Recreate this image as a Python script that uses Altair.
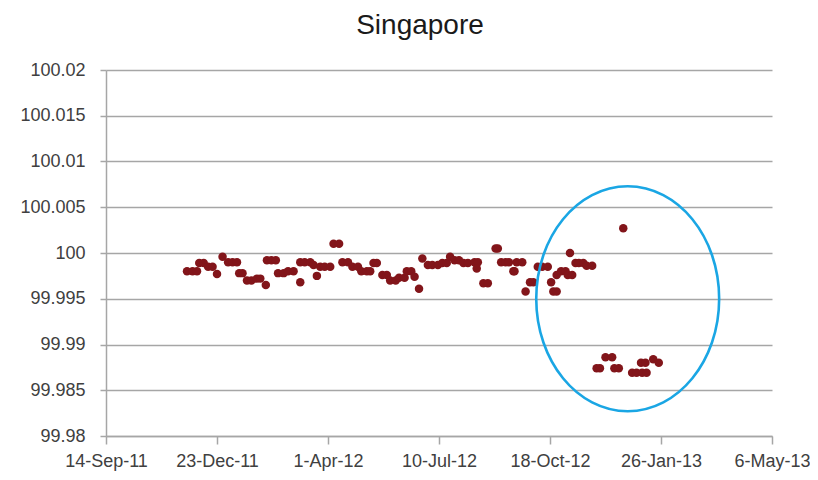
import altair as alt
import pandas as pd

# ---- data ----
dates = [
    "2011-11-26", "2011-12-01", "2011-12-05", "2011-12-07", "2011-12-11", "2011-12-15",
    "2011-12-19", "2011-12-23", "2011-12-28", "2012-01-02", "2012-01-06", "2012-01-10",
    "2012-01-12", "2012-01-15", "2012-01-19", "2012-01-23", "2012-01-28", "2012-01-31",
    "2012-02-05", "2012-02-06", "2012-02-10", "2012-02-14", "2012-02-16", "2012-02-21",
    "2012-02-25", "2012-03-01", "2012-03-07", "2012-03-07", "2012-03-11", "2012-03-16",
    "2012-03-19", "2012-03-22", "2012-03-25", "2012-03-29", "2012-04-03", "2012-04-06",
    "2012-04-11", "2012-04-14", "2012-04-19", "2012-04-23", "2012-04-28", "2012-05-01",
    "2012-05-06", "2012-05-09", "2012-05-12", "2012-05-15", "2012-05-20", "2012-05-24",
    "2012-05-27", "2012-06-01", "2012-06-04", "2012-06-09", "2012-06-11", "2012-06-15",
    "2012-06-18", "2012-06-22", "2012-06-25", "2012-06-30", "2012-07-04", "2012-07-09",
    "2012-07-13", "2012-07-17", "2012-07-20", "2012-07-24", "2012-07-28", "2012-08-01",
    "2012-08-05", "2012-08-11", "2012-08-14", "2012-08-13", "2012-08-19", "2012-08-23",
    "2012-08-30", "2012-09-01", "2012-09-04", "2012-09-08", "2012-09-11", "2012-09-15",
    "2012-09-16", "2012-09-18", "2012-09-23", "2012-09-26", "2012-09-30", "2012-10-03",
    "2012-10-07", "2012-10-11", "2012-10-16", "2012-10-19", "2012-10-21", "2012-10-24",
    "2012-10-24", "2012-10-28", "2012-11-01", "2012-11-03", "2012-11-05", "2012-11-07",
    "2012-11-10", "2012-11-13", "2012-11-17", "2012-11-20", "2012-11-25",
    "2012-11-29", "2012-12-02", "2012-12-07", "2012-12-13", "2012-12-15", "2012-12-19",
    "2012-12-23", "2012-12-31", "2013-01-04", "2013-01-08", "2013-01-09", "2013-01-12",
    "2013-01-13", "2013-01-19", "2013-01-24",
]
values = [
    99.9980, 99.9980, 99.9980, 99.9989, 99.9989, 99.9985,
    99.9985, 99.9977, 99.9996, 99.9990, 99.9990, 99.9990,
    99.9978, 99.9978, 99.9970, 99.9970, 99.9972, 99.9972,
    99.9965, 99.9992, 99.9992, 99.9992, 99.9978, 99.9978,
    99.9980, 99.9980, 99.9968, 99.9990, 99.9990, 99.9990,
    99.9987, 99.9975, 99.9985, 99.9985, 99.9985, 100.0010,
    100.0010, 99.9990, 99.9990, 99.9985, 99.9985, 99.9980,
    99.9980, 99.9980, 99.9989, 99.9989, 99.9976, 99.9976,
    99.9970, 99.9970, 99.9973, 99.9973, 99.9980, 99.9980,
    99.9974, 99.9961, 99.9994, 99.9987, 99.9987, 99.9987,
    99.9989, 99.9989, 99.9996, 99.9992, 99.9992, 99.9989,
    99.9989, 99.9990, 99.9990, 99.9983, 99.9967, 99.9967,
    100.0005, 100.0005, 99.9990, 99.9990, 99.9990, 99.9980,
    99.9980, 99.9990, 99.9990, 99.9958, 99.9968, 99.9968,
    99.9985, 99.9985, 99.9985, 99.9968, 99.9958, 99.9958,
    99.9976, 99.9980, 99.9980, 99.9976, 100.0000, 99.9976,
    99.9989, 99.9989, 99.9989, 99.9986, 99.9986,
    99.9874, 99.9874, 99.9886, 99.9886, 99.9874, 99.9874,
    100.0027, 99.9869, 99.9869, 99.9880, 99.9869, 99.9880,
    99.9869, 99.9884, 99.9880,
]

x_ticks = ["2011-09-14", "2011-12-23", "2012-04-01", "2012-07-10",
           "2012-10-18", "2013-01-26", "2013-05-06"]
y_ticks = [99.98, 99.985, 99.99, 99.995, 100.0, 100.005, 100.01, 100.015, 100.02]

# annotation ellipse (centre in data coordinates)
ellipse_date = ["2012-12-27"]
ellipse_value = [99.995]

df = pd.DataFrame({"date": dates, "value": values})
ell = pd.DataFrame({"date": ellipse_date, "value": ellipse_value})

def ms(s):
    return int(pd.Timestamp(s, tz="UTC").value // 10**6)

tick_ms = [ms(s) for s in x_ticks]

FONT = "Liberation Sans"

x_enc = alt.X(
    "date:T",
    scale=alt.Scale(domain=[tick_ms[0], tick_ms[-1]]),
    axis=alt.Axis(
        values=tick_ms,
        labelExpr="utcFormat(datum.value, '%-d-%b-%y')",
        labelOverlap=False,
        labelBound=False,
        labelFlush=False,
        title=None,
        grid=False,
        tickSize=8,
        labelPadding=8,
    ),
)
y_enc = alt.Y(
    "value:Q",
    scale=alt.Scale(domain=[99.98, 100.02], nice=False, zero=False),
    axis=alt.Axis(
        values=y_ticks,
        format=".4~f",
        title=None,
        grid=True,
        tickSize=6,
        labelPadding=15,
    ),
)

points = alt.Chart(df).mark_point(
    filled=True, shape="circle", size=72, color="#82151a", opacity=1
).encode(x=x_enc, y=y_enc)

ellipse = alt.Chart(ell).mark_point(
    shape="M -0.813 0 A 0.813 1 0 1 0 0.813 0 A 0.813 1 0 1 0 -0.813 0 Z",
    filled=False,
    size=50625,
    stroke="#1aa6e4",
    strokeWidth=2.6,
    opacity=1,
).encode(x=alt.X("date:T"), y=alt.Y("value:Q"))

chart = (
    alt.layer(points, ellipse)
    .properties(
        width=666,
        height=366,
        autosize=alt.AutoSizeParams(type="none"),
        padding={"left": 98, "top": 62, "right": 38, "bottom": 36},
        title=alt.TitleParams(
            "Singapore",
            font=FONT,
            fontSize=28,
            fontWeight="normal",
            color="#1a1a1a",
            anchor="middle",
            dx=-19,
            offset=21,
        ),
    )
    .configure_view(stroke=None)
    .configure_axis(
        labelFont=FONT,
        labelFontSize=18,
        labelColor="#404040",
        domainColor="#a6a6a6",
        domainWidth=1.5,
        tickColor="#a6a6a6",
        tickWidth=1.5,
        gridColor="#a6a6a6",
        gridWidth=1.5,
    )
)

chart.save("out.html", embed_options={"renderer": "svg", "actions": False})
